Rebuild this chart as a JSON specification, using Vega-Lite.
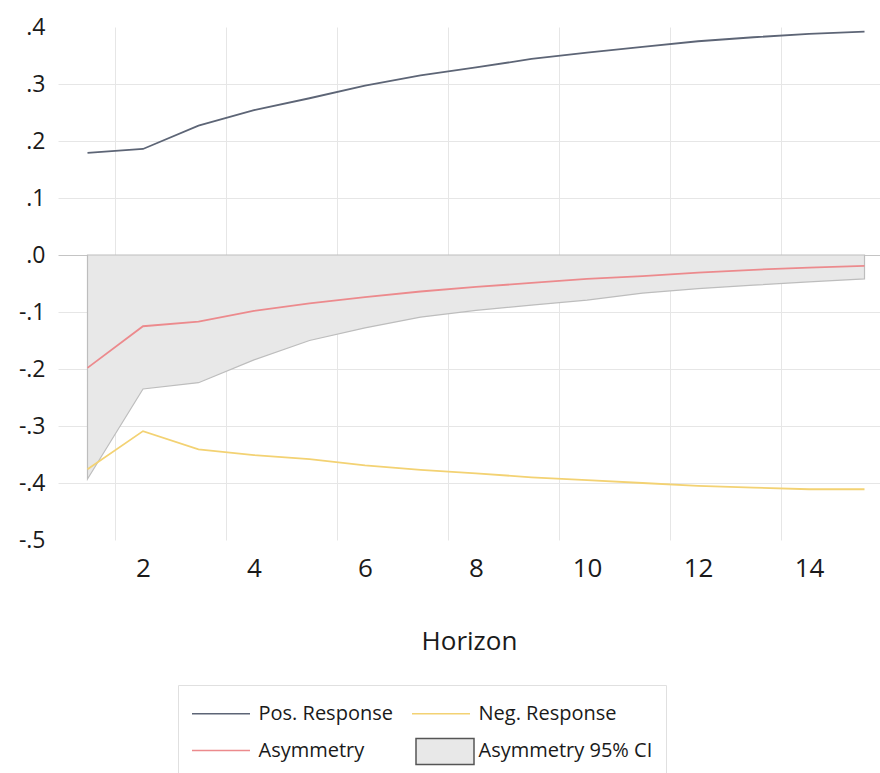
{
  "$schema": "https://vega.github.io/schema/vega-lite/v6.json",
  "width": 822,
  "height": 513,
  "autosize": {"type": "none"},
  "padding": {"left": 58, "top": 27, "right": 0, "bottom": 233},
  "background": "white",
  "config": {"view": {"stroke": null}, "font": "Open Sans"},
  "datasets": {
    "ci": [
      {"series": "Asymmetry 95% CI", "h": 1, "lo": -0.393, "hi": 0},
      {"series": "Asymmetry 95% CI", "h": 2, "lo": -0.235, "hi": 0},
      {"series": "Asymmetry 95% CI", "h": 3, "lo": -0.224, "hi": 0},
      {"series": "Asymmetry 95% CI", "h": 4, "lo": -0.184, "hi": 0},
      {"series": "Asymmetry 95% CI", "h": 5, "lo": -0.150, "hi": 0},
      {"series": "Asymmetry 95% CI", "h": 6, "lo": -0.128, "hi": 0},
      {"series": "Asymmetry 95% CI", "h": 7, "lo": -0.109, "hi": 0},
      {"series": "Asymmetry 95% CI", "h": 8, "lo": -0.097, "hi": 0},
      {"series": "Asymmetry 95% CI", "h": 9, "lo": -0.088, "hi": 0},
      {"series": "Asymmetry 95% CI", "h": 10, "lo": -0.079, "hi": 0},
      {"series": "Asymmetry 95% CI", "h": 11, "lo": -0.067, "hi": 0},
      {"series": "Asymmetry 95% CI", "h": 12, "lo": -0.059, "hi": 0},
      {"series": "Asymmetry 95% CI", "h": 13, "lo": -0.053, "hi": 0},
      {"series": "Asymmetry 95% CI", "h": 14, "lo": -0.047, "hi": 0},
      {"series": "Asymmetry 95% CI", "h": 15, "lo": -0.042, "hi": 0}
    ],
    "lines": [
      {"series": "Pos. Response", "h": 1, "v": 0.179},
      {"series": "Pos. Response", "h": 2, "v": 0.186},
      {"series": "Pos. Response", "h": 3, "v": 0.227},
      {"series": "Pos. Response", "h": 4, "v": 0.254},
      {"series": "Pos. Response", "h": 5, "v": 0.275},
      {"series": "Pos. Response", "h": 6, "v": 0.297},
      {"series": "Pos. Response", "h": 7, "v": 0.315},
      {"series": "Pos. Response", "h": 8, "v": 0.329},
      {"series": "Pos. Response", "h": 9, "v": 0.344},
      {"series": "Pos. Response", "h": 10, "v": 0.355},
      {"series": "Pos. Response", "h": 11, "v": 0.365},
      {"series": "Pos. Response", "h": 12, "v": 0.375},
      {"series": "Pos. Response", "h": 13, "v": 0.382},
      {"series": "Pos. Response", "h": 14, "v": 0.388},
      {"series": "Pos. Response", "h": 15, "v": 0.392},
      {"series": "Neg. Response", "h": 1, "v": -0.376},
      {"series": "Neg. Response", "h": 2, "v": -0.309},
      {"series": "Neg. Response", "h": 3, "v": -0.341},
      {"series": "Neg. Response", "h": 4, "v": -0.351},
      {"series": "Neg. Response", "h": 5, "v": -0.358},
      {"series": "Neg. Response", "h": 6, "v": -0.369},
      {"series": "Neg. Response", "h": 7, "v": -0.377},
      {"series": "Neg. Response", "h": 8, "v": -0.383},
      {"series": "Neg. Response", "h": 9, "v": -0.390},
      {"series": "Neg. Response", "h": 10, "v": -0.395},
      {"series": "Neg. Response", "h": 11, "v": -0.400},
      {"series": "Neg. Response", "h": 12, "v": -0.405},
      {"series": "Neg. Response", "h": 13, "v": -0.408},
      {"series": "Neg. Response", "h": 14, "v": -0.411},
      {"series": "Neg. Response", "h": 15, "v": -0.411},
      {"series": "Asymmetry", "h": 1, "v": -0.198},
      {"series": "Asymmetry", "h": 2, "v": -0.125},
      {"series": "Asymmetry", "h": 3, "v": -0.117},
      {"series": "Asymmetry", "h": 4, "v": -0.098},
      {"series": "Asymmetry", "h": 5, "v": -0.085},
      {"series": "Asymmetry", "h": 6, "v": -0.074},
      {"series": "Asymmetry", "h": 7, "v": -0.064},
      {"series": "Asymmetry", "h": 8, "v": -0.056},
      {"series": "Asymmetry", "h": 9, "v": -0.049},
      {"series": "Asymmetry", "h": 10, "v": -0.042},
      {"series": "Asymmetry", "h": 11, "v": -0.037},
      {"series": "Asymmetry", "h": 12, "v": -0.031},
      {"series": "Asymmetry", "h": 13, "v": -0.026},
      {"series": "Asymmetry", "h": 14, "v": -0.022},
      {"series": "Asymmetry", "h": 15, "v": -0.019}
    ]
  },
  "encoding": {
    "x": {
      "field": "h",
      "type": "quantitative",
      "scale": {"domain": [0.4685, 15.279], "nice": false, "zero": false},
      "axis": {
        "values": [1.5, 3.5, 5.5, 7.5, 9.5, 11.5, 13.5],
        "labelExpr": "'' + (datum.value + 0.5)",
        "labelOffset": 27.75,
        "labelFlush": false,
        "labelOverlap": false,
        "ticks": false,
        "domain": false,
        "labelFontSize": 26,
        "labelColor": "#1a1a1a",
        "labelPadding": 15,
        "gridColor": "#e6e6e6",
        "gridWidth": 1,
        "title": "Horizon",
        "titleFontSize": 26,
        "titleFontWeight": "normal",
        "titleColor": "#1a1a1a",
        "titlePadding": 47
      }
    }
  },
  "layer": [
    {
      "data": {"name": "ci"},
      "mark": {"type": "area", "stroke": "#bdbdbd", "strokeWidth": 1.2, "opacity": 1},
      "encoding": {
        "y": {
          "field": "lo",
          "type": "quantitative",
          "scale": {"domain": [-0.5, 0.4], "nice": false, "zero": false},
          "axis": {
            "values": [-0.5, -0.4, -0.3, -0.2, -0.1, 0, 0.1, 0.2, 0.3, 0.4],
            "labelExpr": "(datum.value < 0 ? '-' : '') + '.' + format(abs(datum.value) * 10, '.0f')",
            "domain": false,
            "ticks": false,
            "labelPadding": 13,
            "labelFontSize": 23,
            "labelColor": "#1a1a1a",
            "labelFlush": false,
            "labelOverlap": false,
            "title": null,
            "gridColor": {"condition": {"test": "datum.value === 0", "value": "#c4c4c4"}, "value": "#e6e6e6"},
            "gridOpacity": {"condition": {"test": "datum.value > 0.35 || datum.value < -0.45", "value": 0}, "value": 1}
          }
        },
        "y2": {"field": "hi"},
        "fill": {
          "field": "series",
          "type": "nominal",
          "scale": {"domain": ["Asymmetry 95% CI"], "range": ["#e8e8e8"]},
          "legend": {
            "orient": "none",
            "legendX": 357,
            "legendY": 709,
            "title": null,
            "symbolType": "M-2,-0.9H2V0.9H-2Z",
            "symbolSize": 841,
            "symbolOffset": 14.5,
            "symbolStrokeColor": "#555555",
            "symbolStrokeWidth": 1.5,
            "labelExpr": "''",
            "labelFontSize": 20,
            "padding": 0,
            "zindex": 2
          }
        }
      }
    },
    {
      "data": {"name": "lines"},
      "mark": {"type": "line", "strokeWidth": 1.8},
      "encoding": {
        "y": {"field": "v", "type": "quantitative"},
        "color": {
          "field": "series",
          "type": "nominal",
          "scale": {
            "domain": ["Pos. Response", "Asymmetry", "Neg. Response", "Asymmetry 95% CI"],
            "range": ["#5d6576", "#ec8a8d", "#f3d273", "transparent"]
          },
          "legend": {
            "orient": "none",
            "legendX": 120,
            "legendY": 658,
            "columns": 2,
            "title": null,
            "symbolType": "M-2,0H2",
            "symbolSize": 841,
            "symbolOffset": 14.5,
            "symbolStrokeWidth": 1.5,
            "labelFontSize": 20,
            "labelColor": "#1a1a1a",
            "labelOffset": 22,
            "columnPadding": 16,
            "rowPadding": 11,
            "padding": 13,
            "strokeColor": "#e0e0e0",
            "fillColor": "white",
            "labelLimit": 400,
            "zindex": 1
          }
        }
      }
    }
  ]
}
